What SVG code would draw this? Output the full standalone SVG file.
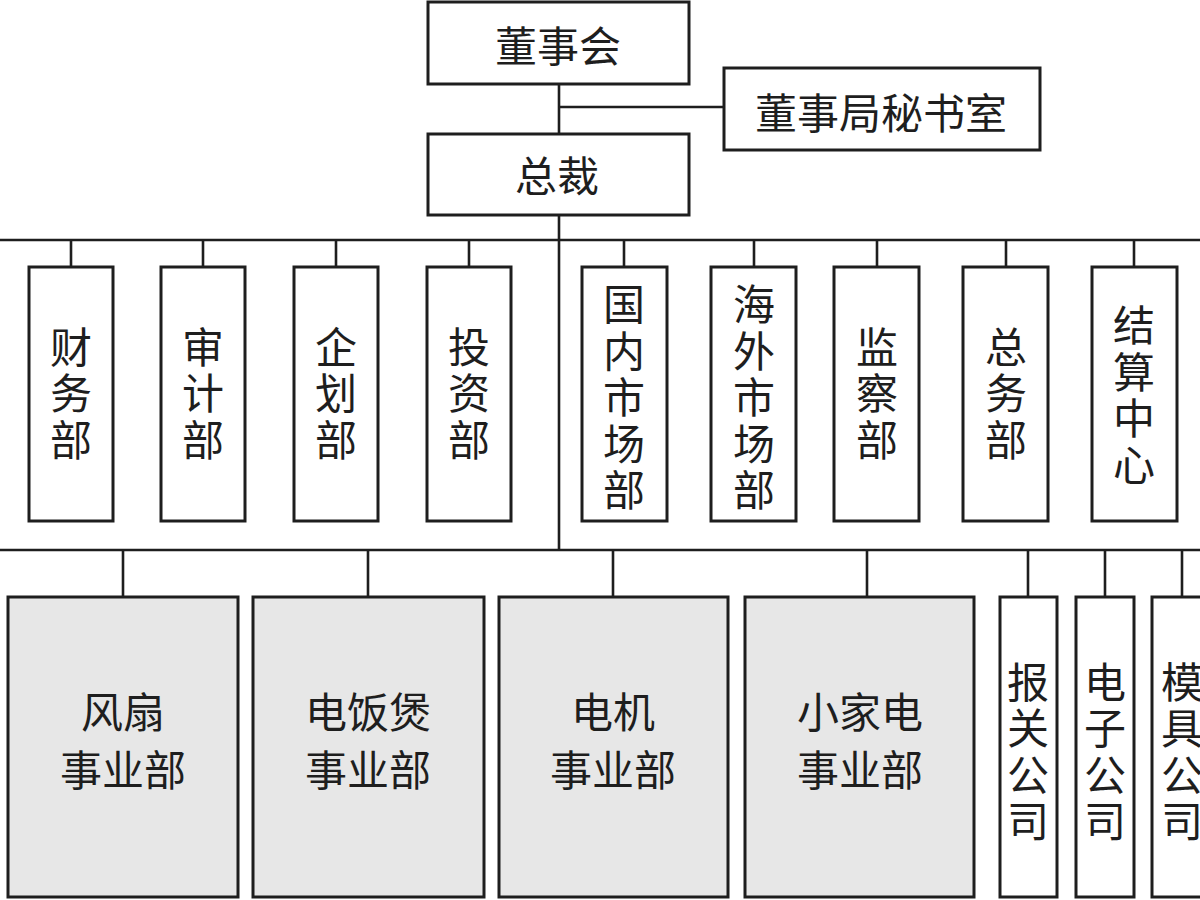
<svg xmlns="http://www.w3.org/2000/svg" width="1200" height="900" viewBox="0 0 1200 900">
<style>
.box{fill:#ffffff;stroke:#1e1e1e;stroke-width:3}
.gbox{fill:#e7e7e7;stroke:#1e1e1e;stroke-width:3}
.ln{stroke:#1e1e1e;stroke-width:2.6;fill:none}
text{font-family:"Noto Sans CJK SC","Noto Sans",sans-serif;font-size:42px;fill:#1e1e1e;text-anchor:middle;dominant-baseline:central}
</style>
<rect width="1200" height="900" fill="#ffffff"/>
<g id="connectors">
<path class="ln" d="M559 84V135M559 107H724M559 215V550"/>
<path class="ln" d="M0 240H1200M71 240V267M203 240V267M336 240V267M469 240V267M624 240V267M754 240V267M877 240V267M1006 240V267M1134 240V267"/>
<path class="ln" d="M0 550H1200M123 550V597M368 550V597M613 550V597M867 550V597M1028 550V597M1105 550V597M1182 550V597"/>
</g>
<g id="n-board"><rect class="box" x="428" y="2" width="261" height="82"/><text x="558" y="43">董事会</text></g>
<g id="n-secretary"><rect class="box" x="724" y="68" width="316" height="82"/><text x="881" y="110">董事局秘书室</text></g>
<g id="n-president"><rect class="box" x="428" y="134" width="261" height="81"/><text x="557" y="173">总裁</text></g>
<g id="n-finance"><rect class="box" x="29" y="267" width="84" height="254"/><text x="71"><tspan x="71" y="343.5">财</tspan><tspan x="71" y="390">务</tspan><tspan x="71" y="436.5">部</tspan></text></g>
<g id="n-audit"><rect class="box" x="161" y="267" width="84" height="254"/><text><tspan x="203" y="343.5">审</tspan><tspan x="203" y="390">计</tspan><tspan x="203" y="436.5">部</tspan></text></g>
<g id="n-planning"><rect class="box" x="294" y="267" width="84" height="254"/><text><tspan x="336" y="343.5">企</tspan><tspan x="336" y="390">划</tspan><tspan x="336" y="436.5">部</tspan></text></g>
<g id="n-invest"><rect class="box" x="427" y="267" width="84" height="254"/><text><tspan x="469" y="343.5">投</tspan><tspan x="469" y="390">资</tspan><tspan x="469" y="436.5">部</tspan></text></g>
<g id="n-domestic"><rect class="box" x="582" y="267" width="85" height="254"/><text><tspan x="624" y="301">国</tspan><tspan x="624" y="347.5">内</tspan><tspan x="624" y="394">市</tspan><tspan x="624" y="440.5">场</tspan><tspan x="624" y="487">部</tspan></text></g>
<g id="n-overseas"><rect class="box" x="711" y="267" width="85" height="254"/><text><tspan x="754" y="301">海</tspan><tspan x="754" y="347.5">外</tspan><tspan x="754" y="394">市</tspan><tspan x="754" y="440.5">场</tspan><tspan x="754" y="487">部</tspan></text></g>
<g id="n-supervision"><rect class="box" x="834" y="267" width="85" height="254"/><text><tspan x="877" y="343.5">监</tspan><tspan x="877" y="390">察</tspan><tspan x="877" y="436.5">部</tspan></text></g>
<g id="n-general"><rect class="box" x="963" y="267" width="85" height="254"/><text><tspan x="1006" y="343.5">总</tspan><tspan x="1006" y="390">务</tspan><tspan x="1006" y="436.5">部</tspan></text></g>
<g id="n-settlement"><rect class="box" x="1092" y="267" width="85" height="254"/><text><tspan x="1134" y="322">结</tspan><tspan x="1134" y="368.5">算</tspan><tspan x="1134" y="415">中</tspan><tspan x="1134" y="461.5">心</tspan></text></g>
<g id="n-fan"><rect class="gbox" x="8" y="597" width="230" height="300"/><text><tspan x="123" y="709">风扇</tspan><tspan x="123" y="767">事业部</tspan></text></g>
<g id="n-ricecooker"><rect class="gbox" x="253" y="597" width="231" height="300"/><text><tspan x="368" y="709">电饭煲</tspan><tspan x="368" y="767">事业部</tspan></text></g>
<g id="n-motor"><rect class="gbox" x="499" y="597" width="229" height="300"/><text><tspan x="613" y="709">电机</tspan><tspan x="613" y="767">事业部</tspan></text></g>
<g id="n-smallappliance"><rect class="gbox" x="745" y="597" width="229" height="300"/><text><tspan x="860" y="709">小家电</tspan><tspan x="860" y="767">事业部</tspan></text></g>
<g id="n-customs"><rect class="box" x="1000" y="597" width="57" height="300"/><text><tspan x="1028" y="678.5">报</tspan><tspan x="1028" y="725">关</tspan><tspan x="1028" y="771.5">公</tspan><tspan x="1028" y="818">司</tspan></text></g>
<g id="n-electronics"><rect class="box" x="1076" y="597" width="58" height="300"/><text><tspan x="1105" y="678.5">电</tspan><tspan x="1105" y="725">子</tspan><tspan x="1105" y="771.5">公</tspan><tspan x="1105" y="818">司</tspan></text></g>
<g id="n-mould"><rect class="box" x="1152" y="597" width="60" height="300"/><text><tspan x="1182" y="678.5">模</tspan><tspan x="1182" y="725">具</tspan><tspan x="1182" y="771.5">公</tspan><tspan x="1182" y="818">司</tspan></text></g>
</svg>
